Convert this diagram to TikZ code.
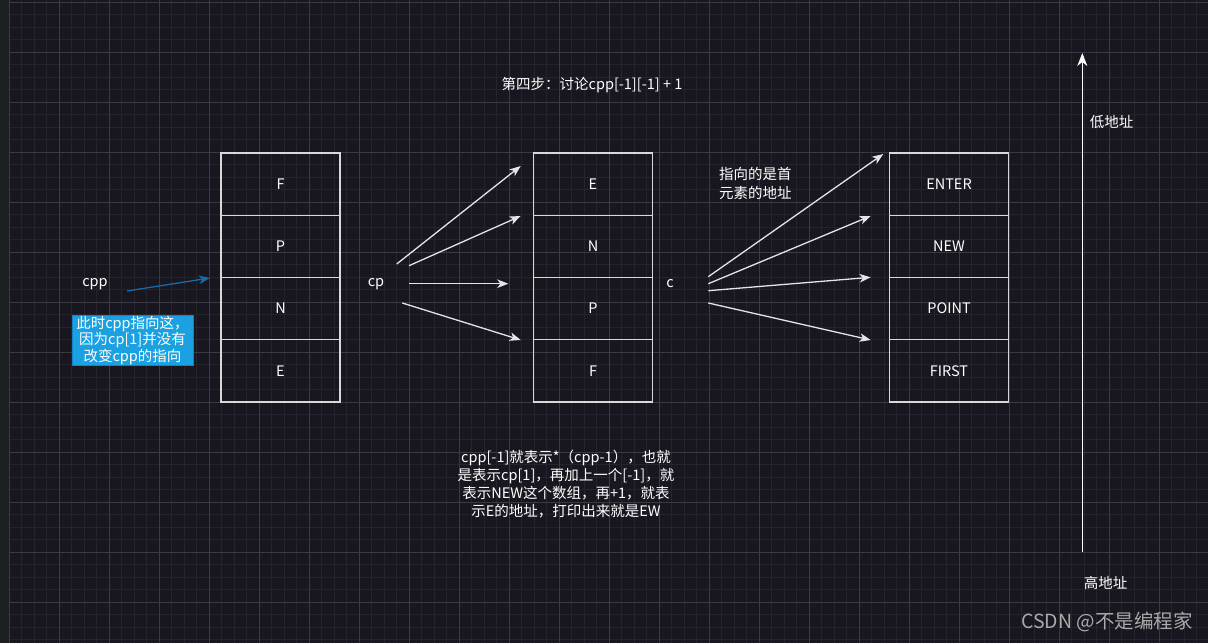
\documentclass[tikz,border=0pt]{standalone}
\usepackage{fontspec}
\setmainfont{Noto Sans CJK SC}
\usetikzlibrary{arrows.meta}
\definecolor{bg}{HTML}{18161E}
\definecolor{strip}{HTML}{1C1F1F}
\definecolor{minorc}{HTML}{25232B}
\definecolor{majorc}{HTML}{3B3941}
\definecolor{cellc}{HTML}{D8D8D8}
\definecolor{arrc}{HTML}{E4E4E4}
\definecolor{bluearr}{HTML}{1B6AA3}
\definecolor{bluefill}{HTML}{1BA1E2}
\definecolor{blueline}{HTML}{1583C0}
\definecolor{wm}{HTML}{A9A9A9}
\tikzset{
  cell/.style={draw=cellc, line width=1.3pt, minimum width=119pt, minimum height=62.25pt, inner sep=0pt, text=white, font=\fontsize{14.5pt}{17pt}\selectfont},
  lbl/.style={text=white, inner sep=0pt, font=\fontsize{14.5pt}{17pt}\selectfont},
  ptr/.style={draw=arrc, line width=1.3pt, -{Stealth[length=11pt,width=8.5pt,inset=3pt]}},
}
\begin{document}
\begin{tikzpicture}[x=1pt,y=-1pt]
\fill[bg] (0,0) rectangle (1208,643);
\useasboundingbox (0,0) rectangle (1208,643);
% grid
\foreach \i in {0,...,95} {
  \pgfmathtruncatemacro{\m}{mod(\i,4)}
  \ifnum\m=0 \else \draw[minorc, line width=1pt] ({9+12.5*\i},0) -- ({9+12.5*\i},643); \fi
}
\foreach \j in {0,...,51} {
  \pgfmathtruncatemacro{\m}{mod(\j,4)}
  \ifnum\m=0 \else \draw[minorc, line width=1pt] (9,{2+12.5*\j}) -- (1208,{2+12.5*\j}); \fi
}
\foreach \i in {0,...,24} \draw[majorc, line width=1pt] ({9+50*\i},0) -- ({9+50*\i},643);
\foreach \j in {0,...,12} \draw[majorc, line width=1pt] (9,{2+50*\j}) -- (1208,{2+50*\j});
\fill[strip] (0,0) rectangle (9,643);

% title
\node[lbl] (title) at (592,85) {第四步：讨论cpp[-1][-1] + 1};

% left stack
\node[cell] (l1) at (280.5,184.1) {F};
\node[cell] (l2) at (280.5,246.4) {P};
\node[cell] (l3) at (280.5,308.6) {N};
\node[cell] (l4) at (280.5,370.9) {E};
% middle stack
\node[cell] (m1) at (593,184.1) {E};
\node[cell] (m2) at (593,246.4) {N};
\node[cell] (m3) at (593,308.6) {P};
\node[cell] (m4) at (593,370.9) {F};
% right stack
\node[cell] (r1) at (949,184.1) {ENTER};
\node[cell] (r2) at (949,246.4) {NEW};
\node[cell] (r3) at (949,308.6) {POINT};
\node[cell] (r4) at (949,370.9) {FIRST};

% labels
\node[lbl] (cpp) at (95,284) {cpp};
\node[lbl] (cp) at (376,284) {cp};
\node[lbl] (c) at (670,284) {c};

% blue note
\node[draw=blueline, fill=bluefill, line width=0.8pt, minimum width=121pt, minimum height=50pt, inner sep=0pt, text=white, align=center, font=\fontsize{14.5pt}{16.5pt}\selectfont] (note) at (132.5,340.5) {此时cpp指向这，\\因为cp[1]并没有\\改变cpp的指向};

% cpp arrow
\coordinate (cppS) at (127,291);
\coordinate (cppE) at (210,278);
\draw[bluearr, line width=1.3pt, -{Stealth[length=11pt,width=8.5pt,inset=3pt]}] (cppS) -- (cppE);

% cp arrows
\coordinate (a1s) at (396.7,264);   \coordinate (a1e) at (520.7,166);
\coordinate (a2s) at (409,265.7);   \coordinate (a2e) at (520.7,216);
\coordinate (a3s) at (409,283.7);   \coordinate (a3e) at (508.3,283.7);
\coordinate (a4s) at (402.3,303);   \coordinate (a4e) at (520.7,340);
\draw[ptr] (a1s) -- (a1e);
\draw[ptr] (a2s) -- (a2e);
\draw[ptr] (a3s) -- (a3e);
\draw[ptr] (a4s) -- (a4e);

% c arrows
\coordinate (b1s) at (708.3,276.7); \coordinate (b1e) at (883.3,154);
\coordinate (b2s) at (708.3,283.7); \coordinate (b2e) at (870.7,216);
\coordinate (b3s) at (708.3,290.7); \coordinate (b3e) at (870.7,277.3);
\coordinate (b4s) at (708.3,303);   \coordinate (b4e) at (870.7,340);
\draw[ptr] (b1s) -- (b1e);
\draw[ptr] (b2s) -- (b2e);
\draw[ptr] (b3s) -- (b3e);
\draw[ptr] (b4s) -- (b4e);

\node[lbl, anchor=west, align=left, font=\fontsize{14.5pt}{18.5pt}\selectfont] (first) at (719,183.5) {指向的是首\\元素的地址};

% bottom explanation
\node[lbl, align=center, font=\fontsize{14.5pt}{18pt}\selectfont] (expl) at (566,484) {cpp[-1]就表示*（cpp-1），也就\\是表示cp[1]，再加上一个[-1]，就\\表示NEW这个数组，再+1，就表\\示E的地址，打印出来就是EW};

% address axis
\coordinate (axB) at (1082.3,552);
\coordinate (axT) at (1082.3,53);
\draw[white, line width=1.3pt, -{Stealth[length=13pt,width=10pt,inset=4pt]}] (axB) -- (axT);
\node[lbl] (low) at (1111.5,122) {低地址};
\node[lbl] (high) at (1105.5,583) {高地址};

% watermark
\node[text=wm, inner sep=0pt, font=\fontsize{19.5pt}{22pt}\selectfont] (wmk) at (1107,622) {CSDN @不是编程家};
\end{tikzpicture}
\end{document}
